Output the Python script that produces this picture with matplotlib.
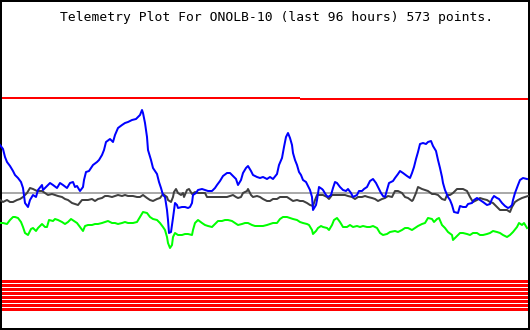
import matplotlib
matplotlib.use('Agg')
import matplotlib.pyplot as plt
from matplotlib.patches import Rectangle

# Plot window is 530 x 330 "screen units", y grows downwards like the original
W, H = 530, 330
title = 'Telemetry Plot For ONOLB-10 (last 96 hours) 573 points.'

# blue trace
blue_x = [0, 3, 5, 7, 10, 13, 15, 18, 21, 23, 25, 28, 30, 33, 36, 38, 42, 43, 50, 53,
          57, 60, 63, 67, 70, 73, 75, 77, 80, 83, 84, 86, 89, 93, 97, 99, 102, 104, 106, 110,
          113, 115, 118, 122, 125, 128, 132, 136, 140, 142, 143, 145, 147, 148, 151, 153, 155, 157, 159, 161,
          163, 165, 167, 168, 169, 171, 173, 175, 177, 178, 182, 185, 188, 190, 192, 193, 196, 198, 202, 205,
          208, 212, 215, 217, 220, 223, 227, 230, 233, 236, 238, 241, 243, 246, 248, 251, 253, 257, 260, 263,
          267, 270, 273, 277, 279, 282, 284, 286, 288, 290, 292, 293, 295, 297, 299, 301, 303, 306, 308, 310,
          312, 313, 316, 317, 319, 322, 323, 326, 328, 331, 333, 335, 337, 340, 343, 346, 348, 351, 353, 357,
          359, 362, 364, 367, 370, 373, 376, 378, 381, 383, 385, 387, 389, 393, 395, 398, 400, 403, 407, 410,
          412, 414, 416, 418, 420, 423, 426, 428, 431, 433, 436, 438, 440, 442, 443, 445, 448, 450, 452, 454,
          458, 460, 463, 466, 468, 472, 474, 477, 480, 483, 487, 490, 492, 494, 497, 499, 502, 505, 508, 510,
          512, 513, 515, 518, 520, 523, 527]
blue_y = [145, 149, 157, 162, 166, 171, 175, 178, 182, 188, 203, 207, 200, 195, 197, 190, 185, 190, 183, 185,
          188, 183, 185, 188, 183, 182, 187, 186, 191, 187, 180, 172, 171, 165, 162, 160, 155, 150, 142, 139,
          142, 135, 128, 125, 123, 122, 120, 119, 115, 110, 113, 123, 137, 150, 160, 168, 171, 174, 182, 188,
          195, 197, 210, 220, 233, 232, 218, 203, 205, 208, 207, 207, 208, 207, 203, 195, 193, 190, 189, 190,
          191, 191, 188, 185, 181, 176, 173, 173, 176, 179, 185, 180, 173, 168, 166, 171, 175, 177, 178, 177,
          179, 177, 179, 174, 165, 158, 147, 137, 133, 138, 145, 153, 160, 165, 172, 175, 180, 182, 186, 190,
          197, 210, 205, 200, 187, 189, 190, 195, 197, 195, 188, 182, 183, 187, 190, 191, 189, 193, 197, 195,
          191, 191, 189, 187, 181, 179, 183, 187, 193, 196, 197, 190, 183, 181, 178, 174, 171, 173, 176, 178,
          173, 167, 159, 152, 144, 143, 144, 142, 141, 146, 151, 160, 168, 177, 183, 190, 197, 200, 205, 212,
          213, 206, 207, 207, 204, 203, 200, 198, 200, 202, 205, 204, 199, 196, 198, 199, 203, 206, 208, 207,
          205, 200, 193, 185, 180, 178, 179]

# dark grey trace
black_x = [0, 3, 7, 10, 13, 17, 20, 23, 27, 30, 33, 37, 42, 45, 48, 52, 55, 58, 62, 65,
           68, 72, 75, 78, 82, 85, 88, 92, 95, 98, 102, 105, 108, 112, 115, 118, 122, 125, 128, 133,
           137, 140, 143, 147, 150, 153, 157, 160, 163, 167, 168, 171, 173, 174, 176, 178, 181, 183, 184, 187,
           189, 192, 195, 198, 202, 205, 207, 210, 213, 217, 220, 223, 227, 230, 233, 236, 238, 241, 243, 247,
           248, 251, 253, 257, 260, 263, 267, 270, 273, 277, 280, 283, 287, 290, 293, 297, 300, 303, 307, 310,
           313, 315, 317, 320, 323, 327, 329, 332, 335, 338, 342, 345, 348, 352, 355, 358, 362, 365, 368, 372,
           375, 378, 382, 385, 388, 392, 395, 398, 402, 405, 408, 412, 413, 416, 418, 422, 425, 428, 432, 435,
           438, 442, 445, 447, 450, 453, 457, 460, 463, 467, 470, 473, 477, 480, 483, 487, 490, 493, 497, 500,
           503, 507, 510, 512, 515, 518, 522, 525, 528]
black_y = [200, 202, 200, 202, 202, 200, 199, 197, 193, 188, 189, 191, 191, 193, 195, 194, 195, 196, 197, 199,
           200, 203, 204, 205, 200, 200, 200, 199, 201, 199, 198, 196, 196, 197, 196, 195, 196, 195, 196, 196,
           197, 197, 195, 198, 200, 201, 199, 198, 194, 197, 200, 202, 197, 192, 189, 193, 195, 193, 197, 190,
           189, 194, 192, 193, 193, 193, 197, 197, 197, 197, 197, 197, 197, 196, 195, 197, 198, 197, 193, 191,
           189, 195, 197, 196, 197, 199, 201, 201, 199, 199, 197, 197, 197, 199, 201, 200, 201, 201, 203, 205,
           206, 200, 195, 195, 195, 197, 199, 195, 195, 195, 195, 195, 196, 197, 199, 197, 197, 196, 197, 198,
           199, 201, 199, 198, 196, 197, 191, 191, 193, 197, 198, 201, 200, 193, 187, 189, 190, 191, 194, 194,
           195, 199, 200, 195, 195, 193, 189, 189, 189, 191, 197, 202, 200, 198, 199, 200, 202, 203, 207, 210,
           210, 210, 212, 207, 202, 200, 198, 197, 196]

# green trace
green_x = [0, 3, 7, 10, 13, 15, 18, 21, 23, 25, 28, 31, 33, 36, 38, 42, 45, 47, 49, 53,
           55, 58, 62, 65, 68, 71, 74, 77, 80, 83, 85, 88, 92, 95, 98, 102, 105, 108, 112, 115,
           118, 122, 125, 128, 133, 137, 140, 143, 147, 150, 153, 157, 160, 163, 165, 167, 168, 170, 172, 173,
           175, 178, 182, 185, 188, 192, 193, 195, 198, 202, 205, 208, 212, 215, 218, 222, 225, 228, 232, 235,
           238, 242, 245, 248, 252, 255, 258, 263, 267, 270, 273, 277, 280, 283, 287, 290, 293, 297, 300, 303,
           307, 309, 312, 313, 316, 318, 321, 323, 327, 329, 332, 334, 337, 340, 343, 347, 350, 353, 357, 360,
           363, 367, 370, 373, 377, 380, 383, 387, 390, 395, 398, 402, 405, 408, 412, 415, 418, 422, 425, 428,
           432, 434, 437, 439, 442, 445, 448, 452, 453, 456, 458, 460, 463, 467, 470, 473, 477, 480, 483, 487,
           490, 493, 497, 500, 503, 507, 510, 513, 517, 519, 522, 524, 527]
green_y = [223, 223, 224, 220, 217, 217, 218, 222, 227, 233, 235, 229, 228, 231, 228, 224, 227, 227, 220, 221,
           219, 220, 222, 224, 222, 219, 221, 223, 227, 231, 226, 225, 225, 224, 224, 223, 222, 221, 223, 223,
           224, 223, 222, 223, 223, 222, 217, 212, 213, 217, 219, 220, 223, 227, 230, 237, 243, 248, 245, 237,
           233, 235, 235, 234, 234, 235, 230, 223, 220, 223, 225, 226, 227, 224, 221, 221, 220, 220, 221, 223,
           225, 224, 223, 223, 225, 226, 226, 226, 225, 224, 223, 223, 219, 217, 217, 218, 219, 220, 222, 223,
           224, 225, 230, 234, 231, 228, 226, 227, 228, 230, 225, 220, 218, 222, 227, 227, 225, 227, 226, 227,
           226, 227, 227, 226, 228, 233, 235, 234, 232, 231, 232, 230, 228, 228, 230, 228, 226, 224, 223, 218,
           219, 222, 219, 218, 225, 228, 232, 235, 240, 237, 235, 233, 233, 234, 235, 233, 233, 235, 235, 234,
           233, 231, 232, 233, 235, 237, 235, 232, 227, 223, 225, 223, 228]

# limit / reference lines (centre row of each band)
upper_limit = [98, 99]      # before / after the step
upper_step_x = 300
centre_line = 193
lower_bands = [281.5, 285.5, 289.5, 293.5, 297.5, 301.5, 305.5, 309.5]

fig = plt.figure(figsize=(W / 100, H / 100), dpi=100)
ax = fig.add_axes([0, 0, 1, 1])
ax.set_xlim(0, W)
ax.set_ylim(H, 0)
ax.axis('off')

px = 72 / 100  # one pixel in points
x0, x1 = 1, 528


def band(y, thick, color, xa=x0, xb=x1):
    ax.add_patch(Rectangle((xa, y - thick / 2), xb - xa, thick, facecolor=color,
                           edgecolor='none', lw=0))


for yb in lower_bands:
    band(yb, 3, '#ff0000')

band(upper_limit[0], 2, '#ff0000', x0, upper_step_x)
band(upper_limit[1], 2, '#ff0000', upper_step_x, x1)
band(centre_line, 2, '#aaaaaa')

ax.plot(green_x, green_y, color='#00ff00', lw=2 * px)
ax.plot(black_x, black_y, color='#404040', lw=2 * px)
ax.plot(blue_x, blue_y, color='#0000ff', lw=2 * px)

ax.add_patch(Rectangle((0.5, 0.5), 528, 328.5, fill=False, edgecolor='black',
                       lw=2 * px, antialiased=False))

ax.text(60, 21, title, family='DejaVu Sans Mono', fontsize=9.4, ha='left', va='baseline')

fig.savefig('out.png', dpi=100)
